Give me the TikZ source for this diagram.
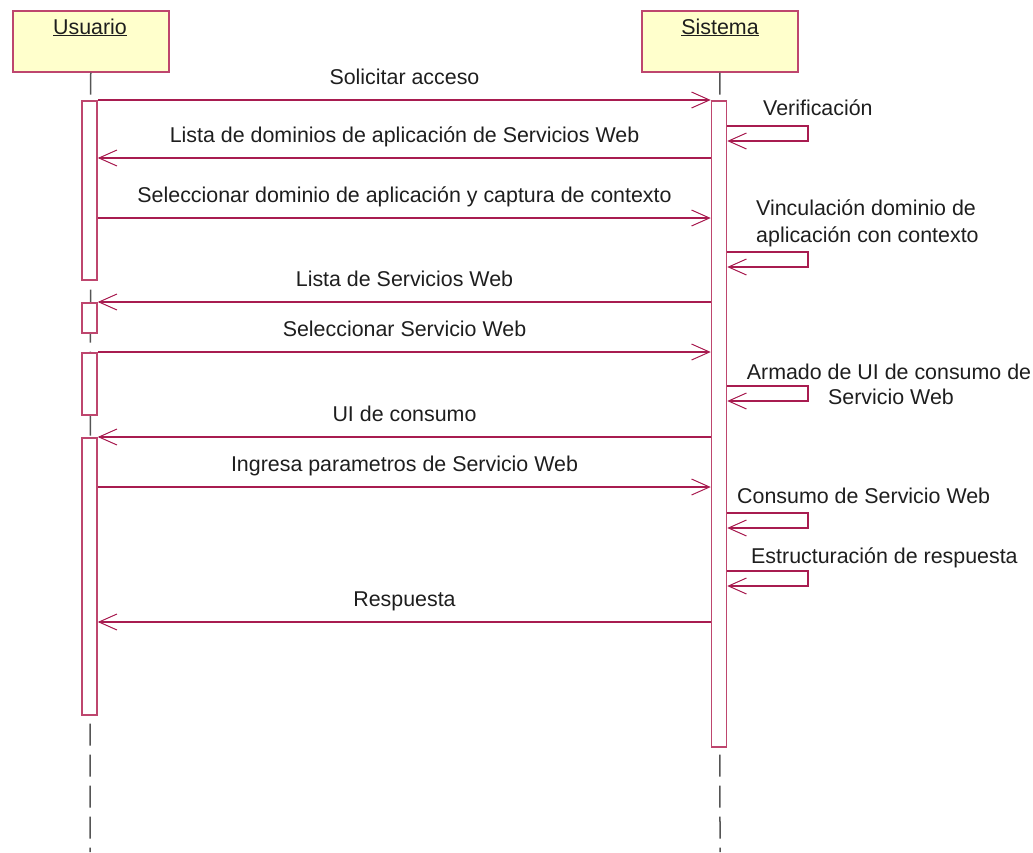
\documentclass[tikz,border=0pt]{standalone}
\usepackage{fontspec}
\setmainfont{Liberation Sans}
\usetikzlibrary{arrows.meta}
\definecolor{umlline}{RGB}{168,28,80}
\definecolor{umlbox}{RGB}{190,70,110}
\definecolor{umlfill}{RGB}{255,255,204}
\definecolor{lifegray}{RGB}{85,85,85}
\definecolor{txtgray}{RGB}{30,30,30}
\tikzset{
  txt/.style={font=\fontsize{21.4}{26}\selectfont, text=txtgray, inner sep=0pt},
  actor/.style={draw=umlbox, fill=umlfill, line width=1.5pt, minimum width=156pt,
    minimum height=61pt, anchor=north west, inner sep=0pt},
  actbar/.style={draw=umlbox, fill=white, line width=1.5pt, minimum width=15pt,
    anchor=north, inner sep=0pt},
  lifeline/.style={draw=lifegray, line width=1.5pt, dash pattern=on 22pt off 9pt},
  msg/.style={draw=umlline, line width=1.5pt,
    -{Straight Barb[length=18pt, width=16pt, line width=1pt]}},
  lbl/.style={txt, anchor=base},
}
\begin{document}
\begin{tikzpicture}[x=1pt, y=-1pt]
\useasboundingbox (0,0) rectangle (1033,852);

% participants
\node[actor] (usuario) at (12,10) {};
\node[actor] (sistema) at (641,10) {};
\node[lbl] (usuario-name) at (90,34) {\underline{Usuario}};
\node[lbl] (sistema-name) at (720,34) {\underline{Sistema}};

% lifelines
\coordinate (uend) at (90,852);
\coordinate (send) at (720,852);
\draw[lifeline] (usuario.south) -- (uend);
\draw[lifeline] (sistema.south) -- (send);

% activation bars
\node[actbar, minimum height=179pt] (u1) at (89.5,100) {};
\node[actbar, minimum height=30pt]  (u2) at (89.5,302) {};
\node[actbar, minimum height=62pt]  (u3) at (89.5,352) {};
\node[actbar, minimum height=277pt] (u4) at (89.5,437) {};
\node[actbar, minimum height=646pt] (s1) at (719,100) {};

% message rows
\coordinate (m1) at (0,100);
\coordinate (m3) at (0,158);
\coordinate (m4) at (0,218);
\coordinate (m6) at (0,302);
\coordinate (m7) at (0,352);
\coordinate (m9) at (0,437);
\coordinate (m10) at (0,487);
\coordinate (m13) at (0,622);

% calls between participants
\draw[msg] (u1.east |- m1) -- (s1.west |- m1);
\draw[msg] (s1.west |- m3) -- (u1.east |- m3);
\draw[msg] (u1.east |- m4) -- (s1.west |- m4);
\draw[msg] (s1.west |- m6) -- (u2.east |- m6);
\draw[msg] (u3.east |- m7) -- (s1.west |- m7);
\draw[msg] (s1.west |- m9) -- (u4.east |- m9);
\draw[msg] (u4.east |- m10) -- (s1.west |- m10);
\draw[msg] (s1.west |- m13) -- (u4.east |- m13);

\node[lbl] (l1)  at (404.5,84)  {Solicitar acceso};
\node[lbl] (l3)  at (404.5,142) {Lista de dominios de aplicación de Servicios Web};
\node[lbl] (l4)  at (404.5,202) {Seleccionar dominio de aplicación y captura de contexto};
\node[lbl] (l6)  at (404.5,286) {Lista de Servicios Web};
\node[lbl] (l7)  at (404.5,336) {Seleccionar Servicio Web};
\node[lbl] (l9)  at (404.5,421) {UI de consumo};
\node[lbl] (l10) at (404.5,471) {Ingresa parametros de Servicio Web};
\node[lbl] (l13) at (404.5,606) {Respuesta};

% self calls on Sistema
\foreach \ya/\yb in {126/141, 252/267, 386/401, 513/528, 571/586}{
  \draw[msg] (s1.east |- 0,\ya) -- (808,\ya) -- (808,\yb) -- (s1.east |- 0,\yb);
}
\node[lbl, anchor=base west] (l2) at (763,115) {Verificación};
\node[lbl, anchor=base west] (l5a) at (756,215) {Vinculación dominio de};
\node[lbl, anchor=base west] (l5b) at (756,242) {aplicación con contexto};
\node[lbl] (l8a) at (889,379) {Armado de UI de consumo de};
\node[lbl] (l8b) at (891,404) {Servicio Web};
\node[lbl, anchor=base west] (l11) at (737,503) {Consumo de Servicio Web};
\node[lbl, anchor=base west] (l12) at (751,563) {Estructuración de respuesta};
\end{tikzpicture}
\end{document}
